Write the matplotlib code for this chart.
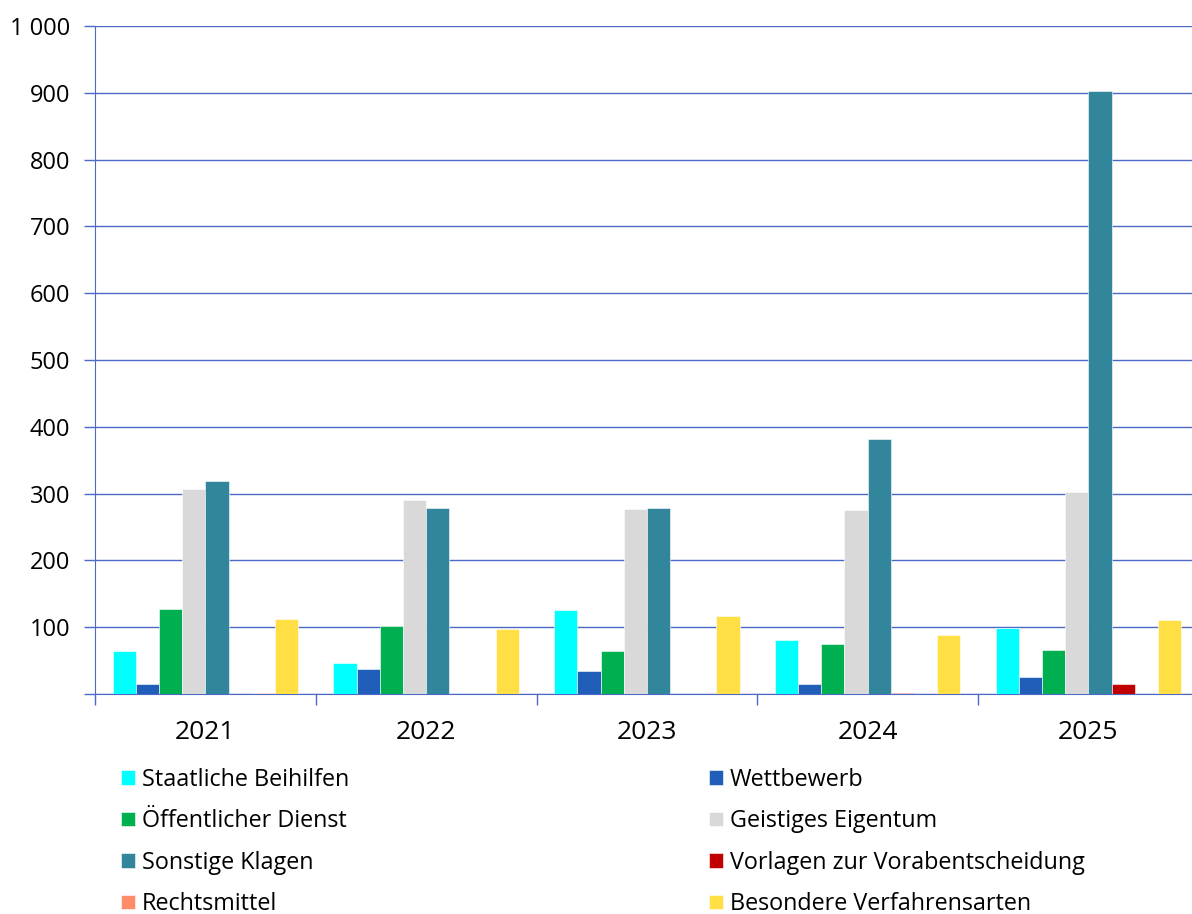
import numpy as np
import matplotlib
matplotlib.use('Agg')
from matplotlib import pyplot as plt
from matplotlib.ticker import FuncFormatter, FixedLocator

plt.rcParams['font.family'] = ['Open Sans', 'DejaVu Sans']

years = ['2021', '2022', '2023', '2024', '2025']
series = ['Staatliche Beihilfen', 'Wettbewerb', 'Öffentlicher Dienst',
          'Geistiges Eigentum', 'Sonstige Klagen', 'Vorlagen zur Vorabentscheidung',
          'Rechtsmittel', 'Besondere Verfahrensarten']
staatliche = [64, 47, 126, 81, 99]
wettbewerb = [15, 38, 35, 15, 26]
oeffentlich = [127, 102, 65, 75, 66]
geistig = [307, 290, 277, 275, 302]
sonstige = [319, 278, 278, 381, 903]
vorlagen = [0, 0, 0, 1, 15]
rechtsmittel = [1, 0, 0, 0, 0]
besondere = [112, 97, 117, 88, 111]
values = [staatliche, wettbewerb, oeffentlich, geistig, sonstige,
          vorlagen, rechtsmittel, besondere]
colors = ['#00FFFF', '#215EBA', '#00B050', '#D9D9D9', '#31869B',
          '#C00000', '#FF8C69', '#FFDF43']

fig = plt.figure(figsize=(11.92, 9.14), dpi=100)
ax = fig.add_axes([0.0797, 0.2407, 0.926, 0.7309])

x = np.arange(len(years))
w = 0.105
bars = []
for i, (vals, c) in enumerate(zip(values, colors)):
    b = ax.bar(x + (i - 3.5) * w, vals, w, color=c, edgecolor='white',
               linewidth=0.4, zorder=3)
    bars.append(b)

ax.set_xlim(-0.5, len(years) - 0.5)
ax.set_ylim(0, 1000)
ax.set_yticks(np.arange(0, 1001, 100))
ax.yaxis.set_major_formatter(FuncFormatter(
    lambda v, p: '' if v == 0 else f'{int(v):,}'.replace(',', ' ')))
ax.grid(axis='y', color='#4A6AC6', linewidth=1.0, zorder=0)
ax.set_xticks(x)
ax.set_xticklabels(years)
ax.xaxis.set_minor_locator(FixedLocator(np.arange(-0.5, len(years), 1)))
ax.tick_params(axis='x', which='major', length=0, labelsize=19, pad=19)
ax.tick_params(axis='x', which='minor', length=8, color='#4A6AC6', width=1)
ax.tick_params(axis='y', length=8, color='#4A6AC6', width=1, labelsize=17, pad=10)
for s in ['top', 'right']:
    ax.spines[s].set_visible(False)
ax.spines['left'].set_color('#4A6AC6')
ax.spines['bottom'].set_color('#4A6AC6')

order = [0, 2, 4, 6, 1, 3, 5, 7]
fig.legend([bars[i] for i in order], [series[i] for i in order],
           loc='upper left', bbox_to_anchor=(0.1015, 0.160), ncol=2,
           frameon=False, fontsize=16.8, handlelength=0.6, handleheight=0.6,
           handletextpad=0.3, columnspacing=15.4, labelspacing=0.75,
           borderaxespad=0, borderpad=0)

fig.savefig('out.png', dpi=100)
